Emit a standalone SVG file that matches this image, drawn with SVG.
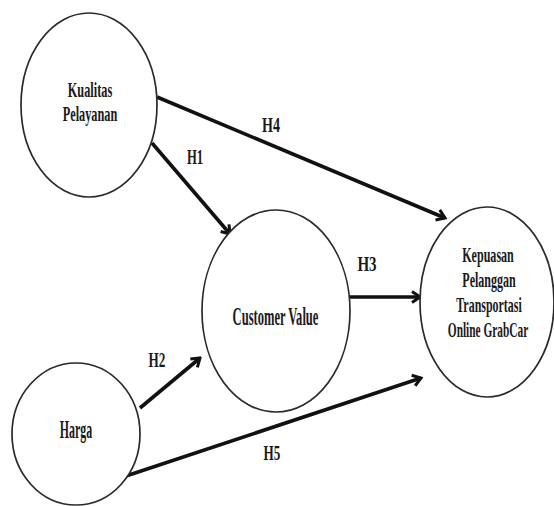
<svg xmlns="http://www.w3.org/2000/svg" width="554" height="506" viewBox="0 0 554 506">
  <style>
    .node { fill: #ffffff; stroke: #2a2a2a; stroke-width: 1.7; }
    .lbl { font-family: "Liberation Serif", "Times New Roman", serif; font-weight: bold; font-size: 22px; fill: #1a1a1a; text-anchor: middle; }
    .big { font-size: 25px; }
    .edge { stroke: #111111; stroke-width: 3.6; fill: none; marker-end: url(#arrow); }
  </style>
  <defs>
    <marker id="arrow" markerUnits="userSpaceOnUse" viewBox="0 0 12 14" refX="10" refY="7" markerWidth="12" markerHeight="14" orient="auto">
      <path d="M2,1.5 L10,7 L2,12.5" fill="none" stroke="#111111" stroke-width="3" stroke-linejoin="miter"/>
    </marker>
  </defs>
  <rect width="554" height="506" fill="#ffffff"/>

  <g id="connectors">
    <line class="edge" x1="157" y1="97" x2="445" y2="218"/>
    <line class="edge" x1="152" y1="143" x2="230" y2="234"/>
    <line class="edge" x1="349" y1="297" x2="420" y2="297"/>
    <line class="edge" x1="140" y1="408" x2="200" y2="358"/>
    <line class="edge" x1="123" y1="477" x2="421" y2="378"/>
  </g>

  <!-- labels use a condensed serif: horizontal scale 0.6, widths given in unscaled units -->
  <g id="edge-labels">
    <text class="lbl" transform="translate(271,132) scale(0.6,1)" textLength="30" lengthAdjust="spacingAndGlyphs">H4</text>
    <text class="lbl" transform="translate(195,164) scale(0.6,1)" textLength="27" lengthAdjust="spacingAndGlyphs">H1</text>
    <text class="lbl" transform="translate(367,271) scale(0.6,1)" textLength="32" lengthAdjust="spacingAndGlyphs">H3</text>
    <text class="lbl" transform="translate(157,367) scale(0.6,1)" textLength="28" lengthAdjust="spacingAndGlyphs">H2</text>
    <text class="lbl" transform="translate(272,460) scale(0.6,1)" textLength="28" lengthAdjust="spacingAndGlyphs">H5</text>
  </g>

  <g id="kualitas-pelayanan">
    <ellipse class="node" cx="89" cy="105" rx="68" ry="92"/>
    <text class="lbl" transform="translate(90,97) scale(0.6,1)" textLength="74" lengthAdjust="spacingAndGlyphs">Kualitas</text>
    <text class="lbl" transform="translate(90,121) scale(0.6,1)" textLength="91" lengthAdjust="spacingAndGlyphs">Pelayanan</text>
  </g>

  <g id="customer-value">
    <ellipse class="node" cx="276" cy="311" rx="74" ry="101"/>
    <text class="lbl big" transform="translate(275.5,325) scale(0.6,1)" textLength="143" lengthAdjust="spacingAndGlyphs">Customer Value</text>
  </g>

  <g id="kepuasan-pelanggan">
    <ellipse class="node" cx="487" cy="302" rx="67" ry="95"/>
    <text class="lbl" transform="translate(488,262) scale(0.6,1)" textLength="86" lengthAdjust="spacingAndGlyphs">Kepuasan</text>
    <text class="lbl" transform="translate(489,287) scale(0.6,1)" textLength="89" lengthAdjust="spacingAndGlyphs">Pelanggan</text>
    <text class="lbl" transform="translate(489,312) scale(0.6,1)" textLength="109" lengthAdjust="spacingAndGlyphs">Transportasi</text>
    <text class="lbl" transform="translate(488,337) scale(0.6,1)" textLength="134" lengthAdjust="spacingAndGlyphs">Online GrabCar</text>
  </g>

  <g id="harga">
    <ellipse class="node" cx="76" cy="434" rx="64" ry="71"/>
    <text class="lbl big" transform="translate(76,438) scale(0.6,1)" textLength="54" lengthAdjust="spacingAndGlyphs">Harga</text>
  </g>
</svg>
